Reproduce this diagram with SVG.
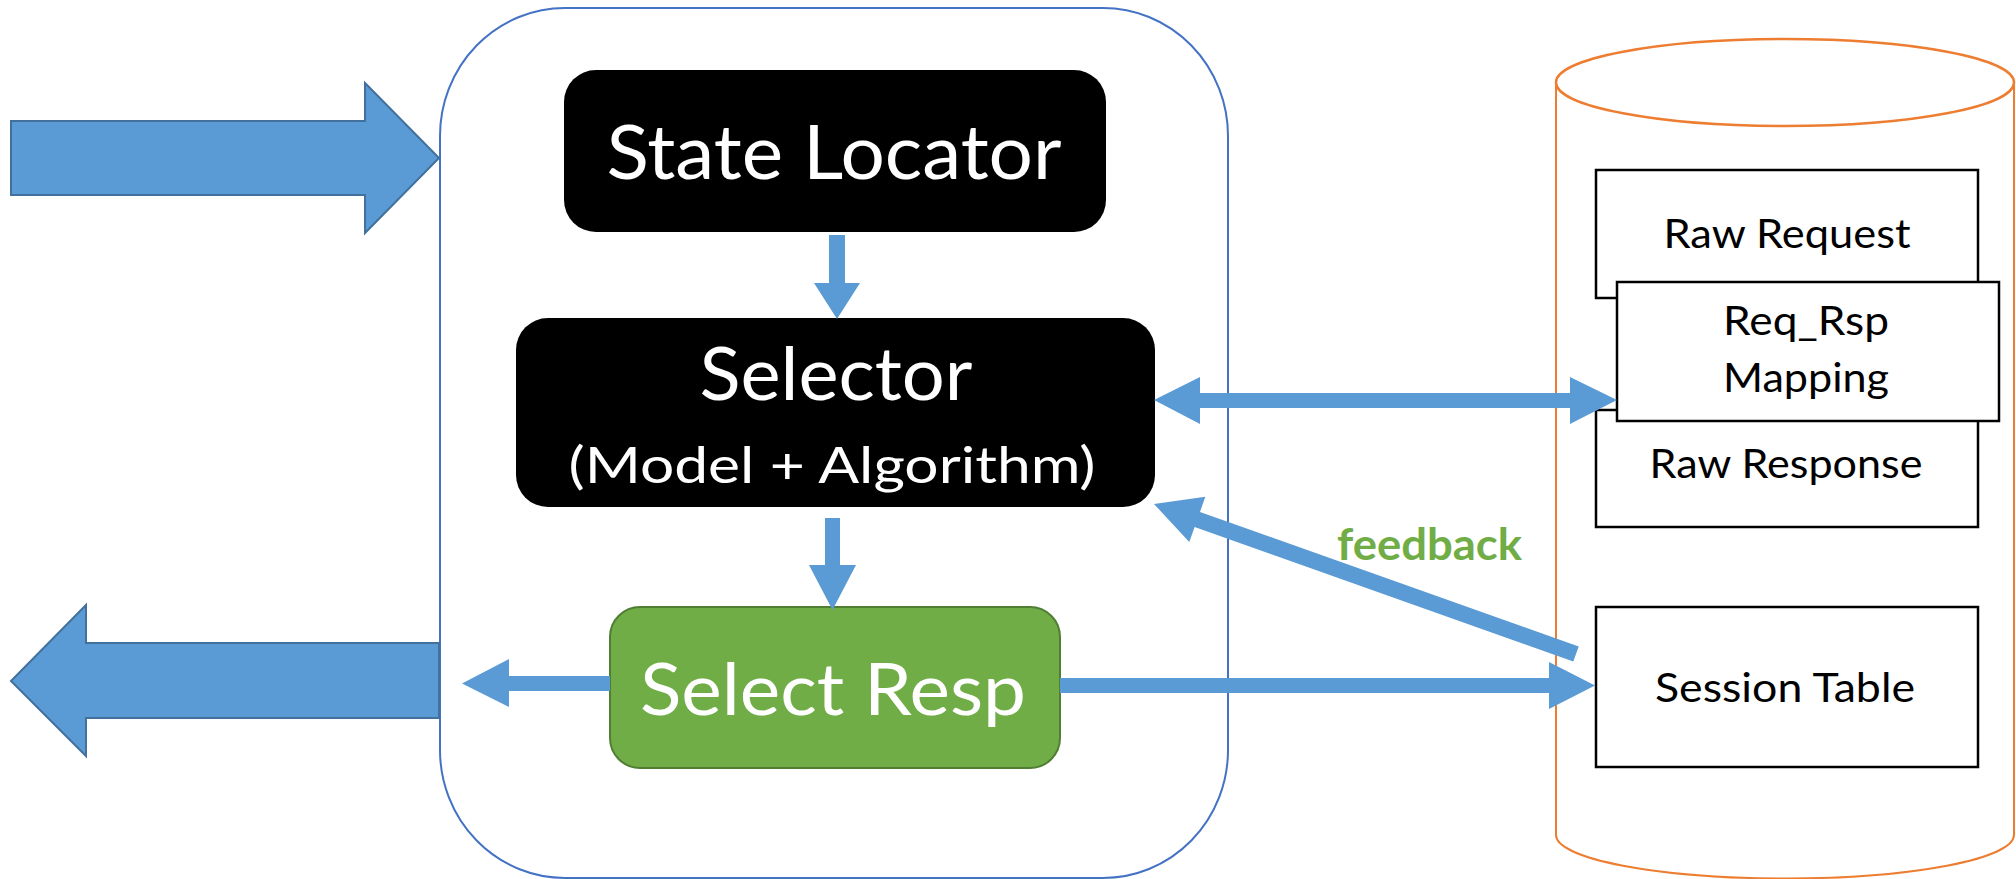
<svg xmlns="http://www.w3.org/2000/svg" width="2016" height="879" viewBox="0 0 2016 879">
<style>
.big{fill:#5B9BD5;stroke:#41719C;stroke-width:2}
.con{fill:#5B9BD5;stroke:none}
.dark{fill:#000000}
.tw{fill:#FFFFFF;font-family:Lato,"Open Sans",sans-serif;text-anchor:middle}
.tb{fill:#000000;font-family:Lato,"Open Sans",sans-serif;text-anchor:middle;font-size:41px}
.tbl{fill:#FFFFFF;stroke:#000000;stroke-width:2.5}
</style>
<rect width="2016" height="879" fill="#FFFFFF"/>
<g id="container">
<rect x="440" y="8" width="788" height="870" rx="125" ry="128" fill="#FFFFFF" stroke="#4472C4" stroke-width="2"/>
</g>
<g id="database">
<path d="M1556 82.5 L1556 835 A229 43.5 0 0 0 2014 835 L2014 82.5" fill="#FFFFFF" stroke="#ED7D31" stroke-width="2"/>
<ellipse cx="1785" cy="82.5" rx="229" ry="43.5" fill="#FFFFFF" stroke="#ED7D31" stroke-width="2.5"/>
</g>
<g id="input-arrow">
<polygon class="big" points="11,121 365,121 365,83 439,158 365,233 365,195 11,195"/>
</g>
<g id="output-arrow">
<polygon class="big" points="439,643 86,643 86,605 11,681 86,756 86,718 439,718"/>
</g>
<g id="state-locator">
<rect class="dark" x="564" y="70" width="542" height="162" rx="32" ry="32"/>
<text class="tw" x="834" y="179" font-size="75" textLength="455" lengthAdjust="spacingAndGlyphs">State Locator</text>
</g>
<g id="selector">
<rect class="dark" x="516" y="318" width="639" height="189" rx="32" ry="32"/>
<text class="tw" x="836" y="400" font-size="74" textLength="273" lengthAdjust="spacingAndGlyphs">Selector</text>
<text class="tw" x="832" y="483" font-size="51" textLength="527" lengthAdjust="spacingAndGlyphs">(Model + Algorithm)</text>
</g>
<g id="select-resp">
<rect x="610" y="607" width="450" height="161" rx="30" ry="30" fill="#70AD47" stroke="#507E32" stroke-width="2"/>
<text class="tw" x="833" y="715" font-size="72" textLength="386" lengthAdjust="spacingAndGlyphs">Select Resp</text>
</g>
<g id="raw-request">
<rect class="tbl" x="1596" y="170" width="382" height="128"/>
<text class="tb" x="1787" y="248" textLength="247" lengthAdjust="spacingAndGlyphs">Raw Request</text>
</g>
<g id="raw-response">
<rect class="tbl" x="1596" y="410" width="382" height="117"/>
<text class="tb" x="1786" y="478" textLength="273" lengthAdjust="spacingAndGlyphs">Raw Response</text>
</g>
<g id="req-rsp-mapping">
<rect class="tbl" x="1617" y="282" width="382" height="139"/>
<text class="tb" x="1806" y="335" textLength="166" lengthAdjust="spacingAndGlyphs">Req_Rsp</text>
<text class="tb" x="1806" y="392" textLength="166" lengthAdjust="spacingAndGlyphs">Mapping</text>
</g>
<g id="session-table">
<rect class="tbl" x="1596" y="607" width="382" height="160"/>
<text class="tb" x="1785" y="702" textLength="260" lengthAdjust="spacingAndGlyphs">Session Table</text>
</g>
<g id="connectors">
<polygon class="con" points="829,235 845,235 845,283 860,283 837,319 814,283 829,283"/>
<polygon class="con" points="825,518 840,518 840,565 856,565 832.5,610 809,565 825,565"/>
<polygon class="con" points="610,676 509,676 509,659 462,683.5 509,707 509,691 610,691"/>
<polygon class="con" points="1154,400 1200,377 1200,393 1570,393 1570,377 1617,400 1570,424 1570,408 1200,408 1200,424"/>
<polygon class="con" points="1060,678 1549,678 1549,662 1595,685.5 1549,709 1549,693 1060,693"/>
<polygon class="con" points="1154,504 1205.3,496.8 1200,511.9 1578.7,646.5 1573.3,661.5 1194.6,526.9 1189.3,542"/>
<text x="1429.5" y="560" fill="#70AD47" font-family="Lato,'Open Sans',sans-serif" font-weight="bold" font-size="43" text-anchor="middle" textLength="185" lengthAdjust="spacingAndGlyphs">feedback</text>
</g>
</svg>
